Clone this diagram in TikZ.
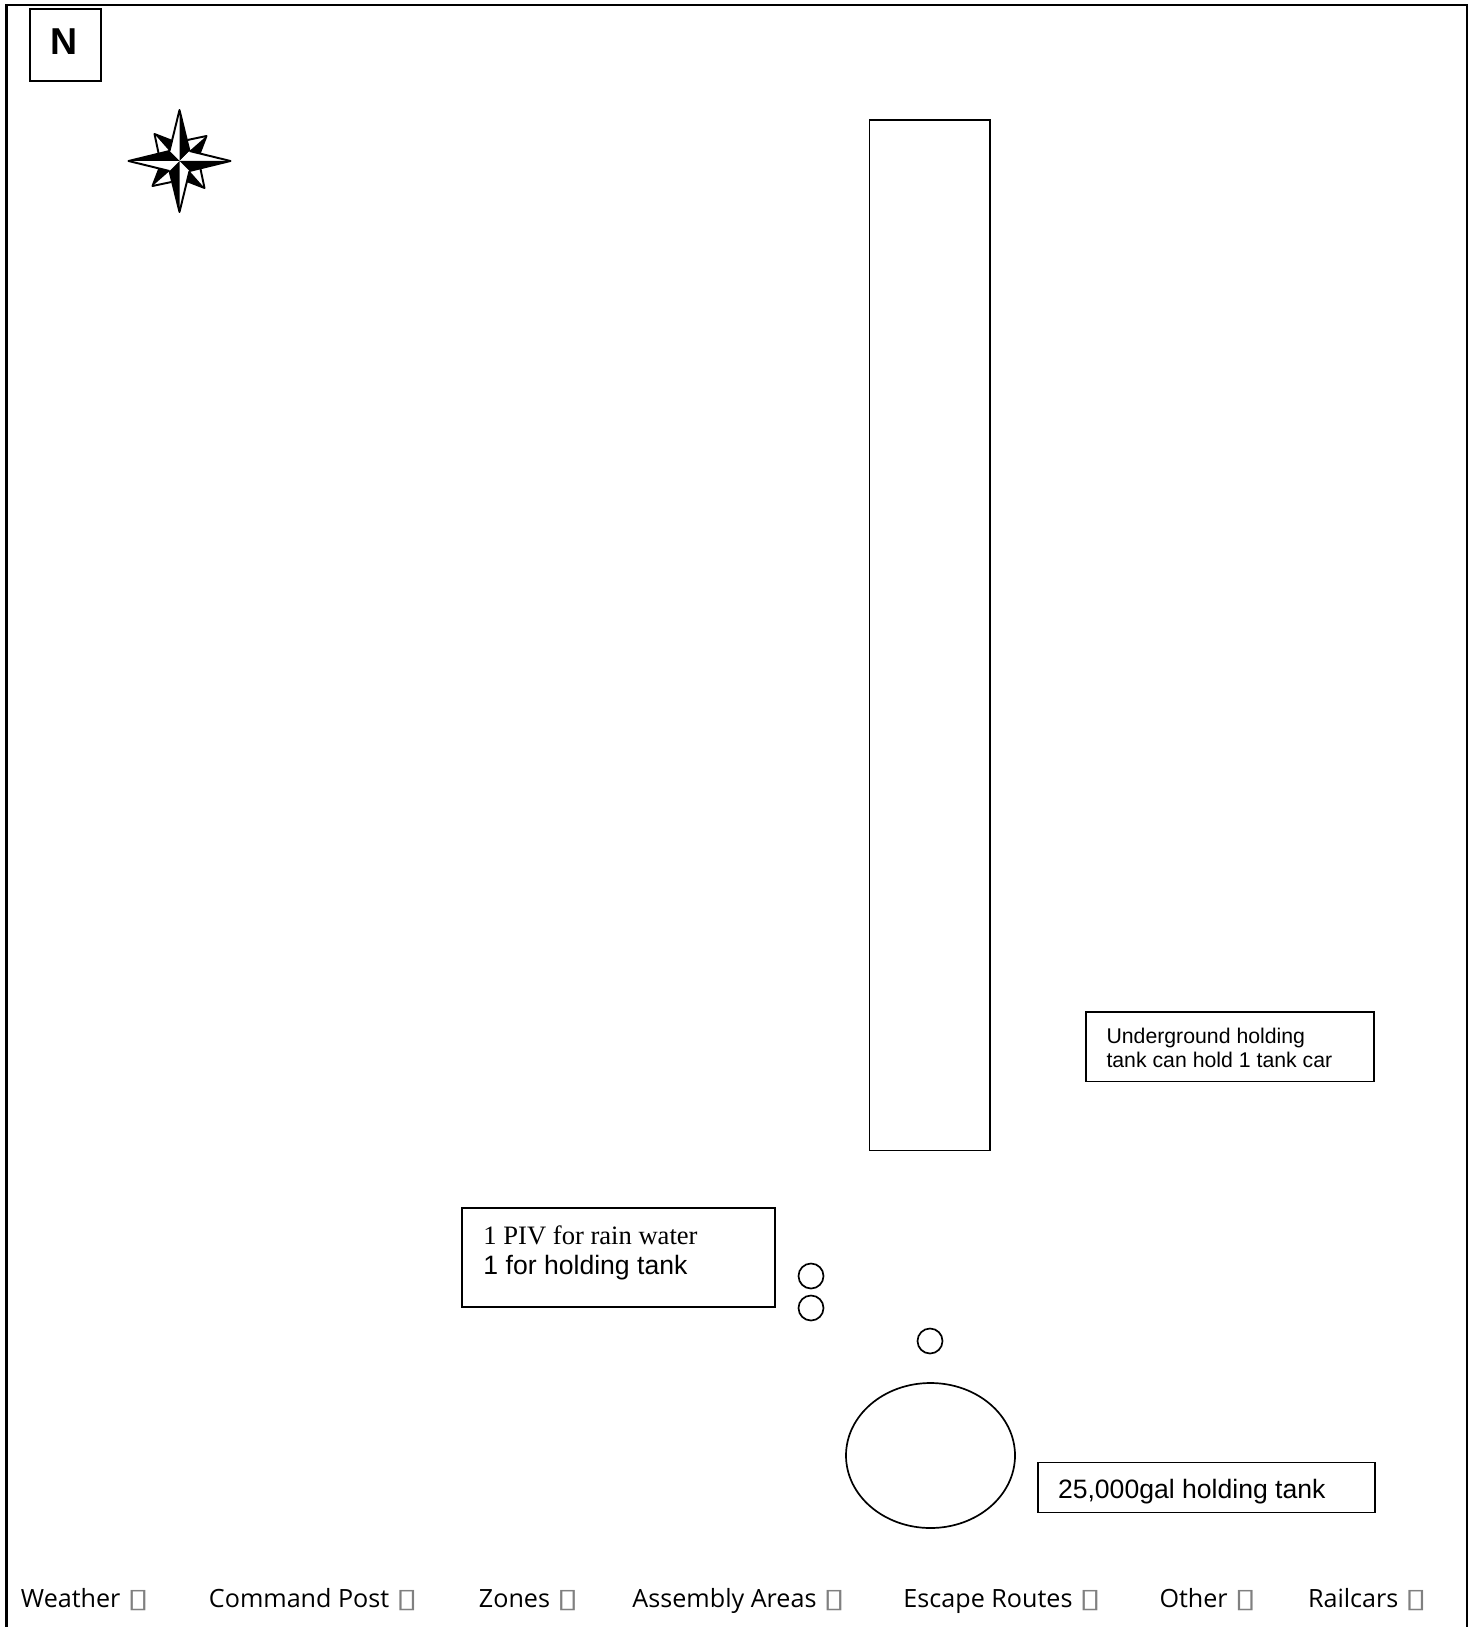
\documentclass[tikz,border=0pt]{standalone}
\usepackage{fontspec}
\setmainfont{Liberation Sans}
\newfontfamily\timesfont{Liberation Serif}
\newfontfamily\legendfont{Open Sans}
\newfontfamily\tofufont{DejaVu Sans}
\usepackage{tikz}

\newcommand{\tofu}{{\tofufont\color{gray}\fontsize{11}{11}\selectfont\raisebox{-0.3pt}{\scalebox{1.5}[1]{\symbol{"25AF}}}}}

\begin{document}
\begin{tikzpicture}[x=0.4138pt, y=-0.4138pt,
    planline/.style={line width=0.8pt},
    frameline/.style={line width=1pt},
    holeline/.style={line width=0.7pt},
    planlabel/.style={anchor=base west, inner sep=0pt},
    legendlabel/.style={anchor=base west, inner sep=0pt, font=\legendfont\fontsize{10.4}{12}\selectfont},
    staredge/.style={draw=black, line width=0.8pt, line join=round}
]
\useasboundingbox (0,0) rectangle (1477,1627);

% Sheet frame, open at the bottom
\draw[frameline] (6.5,1627) -- (6.5,5) -- (1467,5) -- (1467,1627);

% North box
\draw[planline] (30,9) rectangle (101,81);
\node[planlabel, font=\bfseries\fontsize{15.5}{18}\selectfont] (northlabel) at (50.5,55) {N};

% Compass star
\begin{scope}[shift={(179.5,161)}]
  \foreach \ang in {0,90,180,270} {
    \begin{scope}[rotate=\ang]
      \fill[white] (-25,-27) -- (-10,-10) -- (-21,-8) -- cycle;
      \fill[black] (-25,-27) -- (-7,-20) -- (-10,-10) -- cycle;
      \draw[staredge] (-7,-20) -- (-25,-27) -- (-21,-8);
    \end{scope}
  }
  \foreach \ang in {0,90,180,270} {
    \begin{scope}[rotate=\ang]
      \fill[white] (0,0) -- (0,-51) -- (-10,-10) -- cycle;
      \fill[black] (0,0) -- (0,-51) -- (10,-10) -- cycle;
      \draw[staredge] (-10,-10) -- (0,-51) -- (10,-10);
    \end{scope}
  }
\end{scope}

% Long building
\draw[planline] (869.5,120) rectangle (990,1150.5);

% Underground tank note
\draw[planline] (1086,1012) rectangle (1374,1081.5);
\node[planlabel, font=\fontsize{8.8}{12}\selectfont] (undergroundtop) at (1106,1043) {Underground holding};
\node[planlabel, font=\fontsize{8.8}{12}\selectfont] (undergroundbot) at (1106,1067) {tank can hold 1 tank car};

% PIV note
\draw[planline] (462,1208) rectangle (775,1307);
\node[planlabel, font=\timesfont\fontsize{11}{14}\selectfont] (pivtop) at (483,1244) {1 PIV for rain water};
\node[planlabel, font=\fontsize{11}{14}\selectfont] (pivbot) at (483,1274) {1 for holding tank};

% PIV posts
\draw[holeline] (811,1276) circle (12.5);
\draw[holeline] (811,1308) circle (12.5);
\draw[holeline] (930,1341) circle (12.5);

% Holding tank
\draw[holeline] (930.5,1455.5) ellipse (84.5 and 72.5);
\draw[planline] (1038,1462.5) rectangle (1375,1512.5);
\node[planlabel, font=\fontsize{11}{14}\selectfont] (tanklabel) at (1057.5,1498) {25,000gal holding tank};

% Legend row
\node[legendlabel] (weather) at (20.5,1607) {Weather \tofu};
\node[legendlabel] (command) at (208.5,1607) {Command Post \tofu};
\node[legendlabel] (zones) at (478.5,1607) {Zones \tofu};
\node[legendlabel] (assembly) at (632,1607) {Assembly Areas \tofu};
\node[legendlabel] (escape) at (903,1607) {Escape Routes \tofu};
\node[legendlabel] (other) at (1159,1607) {Other \tofu};
\node[legendlabel] (railcars) at (1307.5,1607) {Railcars \tofu};

\end{tikzpicture}
\end{document}
